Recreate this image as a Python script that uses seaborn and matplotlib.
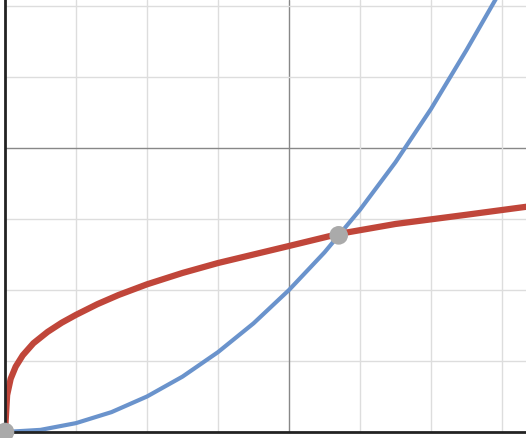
import matplotlib
matplotlib.use("Agg")
import matplotlib.pyplot as plt
import seaborn as sns
import pandas as pd

# values (one grid unit = one minor cell)
red_x = [0, 0.03, 0.08, 0.15, 0.25, 0.4, 0.6, 0.8, 1.0, 1.3, 1.6, 2.0, 2.5, 3.0, 3.5, 4.0, 4.7, 5.5, 6.5, 7.4]
red_y = [0, 0.52, 0.75, 0.92, 1.08, 1.25, 1.41, 1.54, 1.65, 1.8, 1.93, 2.08, 2.24, 2.38, 2.5, 2.62, 2.79, 2.93, 3.06, 3.18]
blue_x = [0, 0.5, 1, 1.5, 2, 2.5, 3, 3.5, 4, 4.5, 5, 5.5, 6, 6.5, 7]
blue_y = [0, 0.03, 0.125, 0.28, 0.5, 0.78, 1.125, 1.53, 2.0, 2.53, 3.13, 3.8, 4.55, 5.38, 6.25]
pts_x = [0, 4.7]
pts_y = [0, 2.77]

sns.set_style("white")
fig = plt.figure(figsize=(5.26, 4.38), dpi=100)
ax = fig.add_axes([5 / 526, 6 / 438, 521 / 526, 432 / 438])

for v in range(1, 8):
    major = v % 4 == 0
    ax.axvline(v, color="#888888" if major else "#dddddd", lw=1.0, zorder=0)
    ax.axhline(v, color="#888888" if major else "#dddddd", lw=1.0, zorder=0)

sns.lineplot(data=pd.DataFrame({"x": blue_x, "y": blue_y}), x="x", y="y",
             color="#6a93cc", lw=3, ax=ax, sort=False)
sns.lineplot(data=pd.DataFrame({"x": red_x, "y": red_y}), x="x", y="y",
             color="#c0463a", lw=4.5, ax=ax, sort=False)
sns.scatterplot(x=pts_x, y=pts_y, color="#aaaaaa", s=180, edgecolor="none",
                ax=ax, zorder=5, clip_on=False)

ax.set_xlim(0, 521 / 71)
ax.set_ylim(0, 432 / 71)
ax.set_xticks([])
ax.set_yticks([])
ax.set_xlabel("")
ax.set_ylabel("")
for s in ["top", "right"]:
    ax.spines[s].set_visible(False)
for s in ["left", "bottom"]:
    ax.spines[s].set_color("#222222")
    ax.spines[s].set_linewidth(2)

fig.savefig("out.png", dpi=100)
